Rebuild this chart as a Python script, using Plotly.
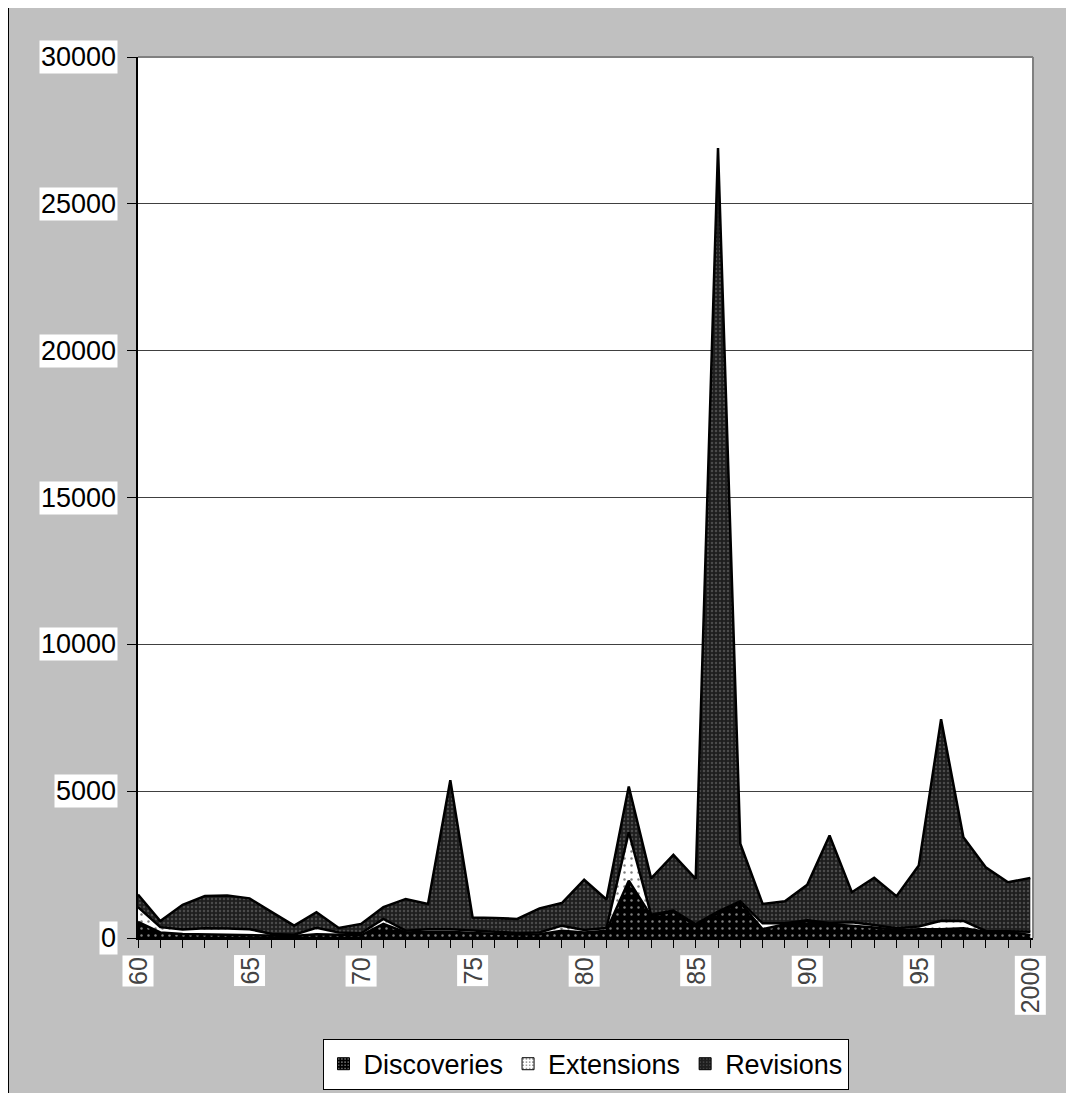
import plotly.graph_objects as go

years = list(range(1960, 2001))

discoveries = [550, 190, 140, 130, 120, 100, 80, 70, 130, 100,
               90, 480, 190, 215, 215, 170, 140, 120, 130, 250,
               190, 250, 1950, 750, 890, 430, 850, 1200, 300, 470,
               580, 470, 420, 360, 270, 300, 300, 330, 210, 210,
               100]

extensions = [500, 180, 150, 200, 200, 200, 60, 40, 220, 90,
              70, 170, 60, 85, 85, 100, 75, 50, 60, 170,
              80, 90, 1650, 40, 40, 40, 50, 50, 200, 30,
              20, 40, 120, 80, 60, 90, 290, 250, 30, 20,
              115]

revisions = [430, 210, 840, 1100, 1130, 1050, 740, 310, 530, 150,
             320, 400, 1080, 860, 5070, 430, 465, 480, 820, 770,
             1710, 970, 1560, 1240, 1900, 1540, 26000, 1960, 660, 750,
             1210, 2980, 1020, 1610, 1090, 2080, 6860, 2850, 2170, 1670,
             1825]

y_ticks = [0, 5000, 10000, 15000, 20000, 25000, 30000]
x_tick_years = [1960, 1965, 1970, 1975, 1980, 1985, 1990, 1995, 2000]
x_tick_labels = ["60", "65", "70", "75", "80", "85", "90", "95", "2000"]

series = [
    ("Discoveries", discoveries, dict(shape=".", bgcolor="black", fgcolor="white", size=7, solidity=0.1)),
    ("Extensions", extensions, dict(shape=".", bgcolor="white", fgcolor="black", size=7, solidity=0.1)),
    ("Revisions", revisions, dict(shape=".", bgcolor="#1e1e1e", fgcolor="#777777", size=4, solidity=0.3)),
]
fillcolors = ["black", "white", "#333333"]

FONT = "Liberation Sans, Arial, sans-serif"

fig = go.Figure()
for (name, vals, pat), fc in zip(series, fillcolors):
    fig.add_trace(go.Scatter(
        x=years, y=vals, name=name, stackgroup="one",
        mode="lines", line=dict(color="black", width=2.5),
        fillcolor=fc, fillpattern=pat, showlegend=False,
    ))
# legend swatches (square, patterned)
for (name, vals, pat), fc in zip(series, fillcolors):
    fig.add_trace(go.Bar(
        x=[None], y=[None], name=name, showlegend=True,
        marker=dict(color=pat["bgcolor"], line=dict(color="black", width=1),
                    pattern=dict(shape=".", bgcolor=pat["bgcolor"], fgcolor=pat["fgcolor"],
                                 size=4, solidity=0.2)),
    ))

annotations = []
for v in y_ticks:
    annotations.append(dict(
        xref="paper", x=0, yref="y", y=v, xanchor="right", yanchor="middle",
        xshift=-20, text=str(v), showarrow=False, bgcolor="white", borderpad=1,
        font=dict(family=FONT, size=27, color="black"),
    ))
for yr, lab in zip(x_tick_years, x_tick_labels):
    annotations.append(dict(
        xref="x", x=yr, yref="paper", y=0, xanchor="center", yanchor="top",
        yshift=-17, text=lab, textangle=-90, showarrow=False, bgcolor="white",
        borderpad=1, font=dict(family=FONT, size=25, color="#444444"),
    ))

# page body has ~8px default margin; compensate so the plot lands where the reference has it
fig.update_layout(
    width=1074, height=1093,
    margin=dict(l=130, r=49, t=49, b=162),
    paper_bgcolor="#C0C0C0", plot_bgcolor="white",
    font=dict(family=FONT, size=27, color="black"),
    showlegend=True,
    legend=dict(
        orientation="h", x=0.5, xanchor="center", y=-0.113, yanchor="top",
        bgcolor="white", bordercolor="black", borderwidth=1,
        font=dict(family=FONT, size=27, color="black"),
        itemwidth=30, tracegroupgap=0, traceorder="normal",
    ),
    annotations=annotations,
    shapes=[
        dict(type="line", xref="paper", yref="paper", x0=-0.14525, x1=-0.14525,
             y0=-0.5, y1=1.0567, line=dict(color="black", width=2), layer="below"),
        dict(type="line", xref="paper", yref="paper", x0=-0.14525, x1=1.3,
             y0=1.0567, y1=1.0567, line=dict(color="black", width=2), layer="below"),
        dict(type="line", xref="paper", yref="paper", x0=0, x1=1, y0=1, y1=1,
             line=dict(color="#808080", width=2), layer="above"),
        dict(type="line", xref="paper", yref="paper", x0=1, x1=1, y0=0, y1=1,
             line=dict(color="#808080", width=2), layer="above"),
    ],
)
fig.update_xaxes(
    range=[1960, 2000.12], showgrid=False, zeroline=False,
    showline=True, linecolor="black", linewidth=2,
    ticks="outside", tickmode="linear", tick0=1960, dtick=1,
    ticklen=8, tickcolor="black", tickwidth=1, showticklabels=False,
)
fig.update_yaxes(
    range=[0, 30000], showgrid=True, gridcolor="#404040", gridwidth=1,
    zeroline=False, showline=True, linecolor="black", linewidth=2,
    ticks="outside", tickmode="array", tickvals=y_ticks,
    ticklen=9, tickcolor="black", tickwidth=1, showticklabels=False,
)

fig.write_html("out.html", post_script="document.body.style.overflow='hidden';")
